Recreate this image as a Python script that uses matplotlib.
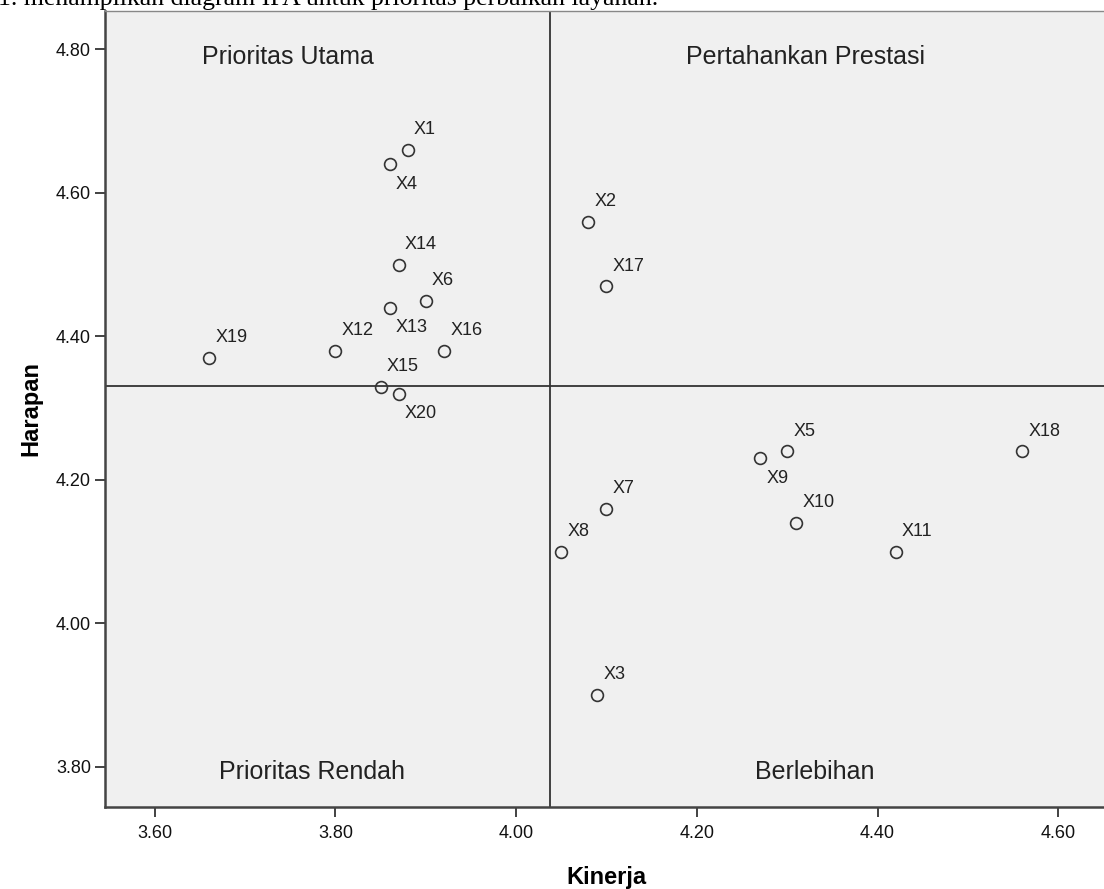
import numpy as np
import matplotlib.pyplot as plt

plt.rcParams['font.family'] = ['Liberation Sans', 'DejaVu Sans']

labels = ["X1", "X2", "X3", "X4", "X5", "X6", "X7", "X8", "X9", "X10",
          "X11", "X12", "X13", "X14", "X15", "X16", "X17", "X18", "X19", "X20"]
kinerja = [3.88, 4.08, 4.09, 3.86, 4.30, 3.90, 4.10, 4.05, 4.27, 4.31,
           4.42, 3.80, 3.86, 3.87, 3.85, 3.92, 4.10, 4.56, 3.66, 3.87]
harapan = [4.66, 4.56, 3.90, 4.64, 4.24, 4.45, 4.16, 4.10, 4.23, 4.14,
           4.10, 4.38, 4.44, 4.50, 4.33, 4.38, 4.47, 4.24, 4.37, 4.32]
x_ticks = [3.60, 3.80, 4.00, 4.20, 4.40, 4.60]
y_ticks = [3.80, 4.00, 4.20, 4.40, 4.60, 4.80]
quadrants = ["Prioritas Utama", "Pertahankan Prestasi", "Prioritas Rendah", "Berlebihan"]

# labels drawn under the point instead of above
below = {"X4", "X13", "X20", "X9"}

kinerja = np.array(kinerja)
harapan = np.array(harapan)
mean_x = kinerja.mean()
mean_y = harapan.mean()

W, H = 1104, 889
fig = plt.figure(figsize=(W / 100, H / 100), dpi=100)
fig.patch.set_facecolor('white')

# caption from the page, cut off at the top
fig.text(-2 / W, 1 - 5 / H, "1. menampilkan diagram IPA untuk prioritas perbaikan layanan.",
         family=['Liberation Serif'], fontsize=18.5, va='baseline', ha='left', color='black')

ax = fig.add_axes([105 / W, (H - 807) / H, (1108 - 105) / W, (807 - 10.7) / H])
ax.set_facecolor('#f0f0f0')
ax.set_xlim(3.545, 4.655)
ax.set_ylim(3.744, 4.854)

ax.axvline(mean_x, color='#333333', lw=1.3, zorder=2)
ax.axhline(mean_y, color='#333333', lw=1.3, zorder=2)

ax.plot(kinerja, harapan, 'o', ms=8.5, mfc='none', mec='#333333', mew=1.2, zorder=3)

for lab, x, y in zip(labels, kinerja, harapan):
    dy = -14.5 if lab in below else 14.5
    ax.annotate(lab, (x, y), xytext=(4.5, dy), textcoords='offset points',
                ha='left', va='center', fontsize=13, color='#222222')

ax.text(3.747, 4.789, quadrants[0], fontsize=18, ha='center', va='center', color='#222222')
ax.text(4.32, 4.789, quadrants[1], fontsize=18, ha='center', va='center', color='#222222')
ax.text(3.774, 3.793, quadrants[2], fontsize=18, ha='center', va='center', color='#222222')
ax.text(4.331, 3.793, quadrants[3], fontsize=18, ha='center', va='center', color='#222222')

ax.set_xticks(x_ticks)
ax.set_yticks(y_ticks)
ax.set_xticklabels([f"{v:.2f}" for v in x_ticks])
ax.set_yticklabels([f"{v:.2f}" for v in y_ticks])
ax.tick_params(direction='out', length=7, width=1.3, colors='#333333',
               labelsize=13, labelcolor='#111111', pad=3)
ax.tick_params(axis='x', pad=6)

for side in ['left', 'bottom']:
    ax.spines[side].set_color('#444444')
    ax.spines[side].set_linewidth(1.8)
for side in ['top', 'right']:
    ax.spines[side].set_color('#888888')
    ax.spines[side].set_linewidth(1.0)

ax.set_xlabel('Kinerja', fontsize=17, fontweight='bold', labelpad=17)
ax.set_ylabel('Harapan', fontsize=17, fontweight='bold', labelpad=10)

fig.savefig('out.png', dpi=100)
